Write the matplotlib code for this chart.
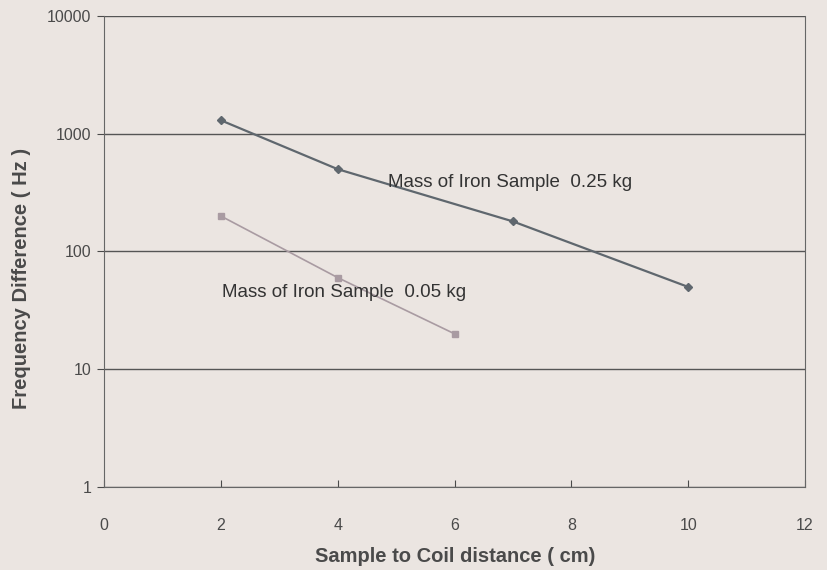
import numpy as np
import matplotlib
matplotlib.use("Agg")
import matplotlib.pyplot as plt

# Data
dist_heavy = [2, 4, 7, 10]
freq_heavy = [1300, 500, 180, 50]
dist_light = [2, 4, 6]
freq_light = [200, 60, 20]
label_heavy = "Mass of Iron Sample  0.25 kg"
label_light = "Mass of Iron Sample  0.05 kg"

bg = "#ebe5e1"
txt = "#4a4a4a"

plt.rcParams["font.family"] = ["Liberation Sans", "DejaVu Sans"]

fig = plt.figure(figsize=(8.27, 5.70), dpi=100, facecolor=bg)
ax = fig.add_axes([0.1258, 0.1456, 0.8476, 0.8264], facecolor=bg)

ax.plot(dist_heavy, freq_heavy, color="#5f676e", lw=1.6,
        marker="D", ms=4, zorder=3)
ax.plot(dist_light, freq_light, color="#a99ba2", lw=1.2,
        marker="s", ms=4, zorder=3)

ax.set_yscale("log")
ax.set_xlim(0, 12)
ax.set_ylim(1, 10000)
ax.set_xticks(np.arange(0, 13, 2))
ax.set_yticks([1, 10, 100, 1000, 10000])
ax.set_yticklabels(["1", "10", "100", "1000", "10000"])
ax.minorticks_off()
ax.yaxis.grid(True, color="#555555", lw=1.0)
ax.set_axisbelow(True)

ax.spines["top"].set_visible(False)
for side in ["left", "right", "bottom"]:
    ax.spines[side].set_color("#666666")
ax.tick_params(axis="x", direction="in", colors=txt, labelsize=11.5, pad=22,
               length=5)
ax.tick_params(axis="y", direction="out", colors=txt, labelsize=11.5,
               length=5, pad=4)

ax.text(4.86, 385, label_heavy, fontsize=13.5, color="#333333", va="center")
ax.text(2.02, 45, label_light, fontsize=13.5, color="#333333", va="center")

fig.text(455 / 827, 1 - 556 / 570, "Sample to Coil distance ( cm)",
         fontsize=14.5, fontweight="bold", color=txt,
         ha="center", va="center")
fig.text(22 / 827, 1 - 278 / 570, "Frequency Difference ( Hz )",
         fontsize=14.5, fontweight="bold", color=txt, rotation=90,
         ha="center", va="center")

fig.savefig("out.png", dpi=100, facecolor=bg)
